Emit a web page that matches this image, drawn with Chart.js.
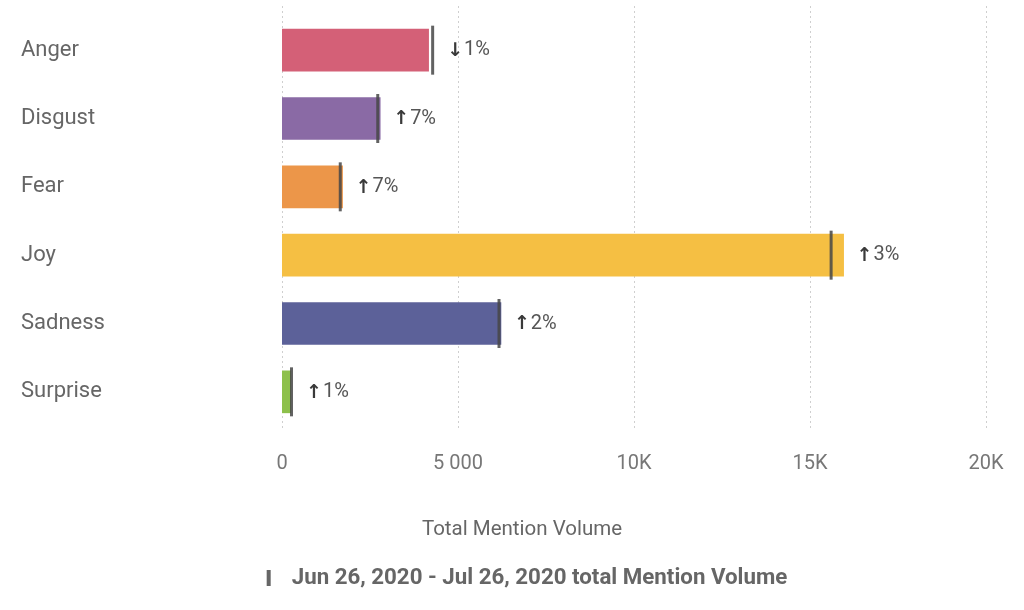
<!DOCTYPE html>
<html>
<head>
<meta charset="utf-8">
<title>Total Mention Volume by emotion</title>
<script src="https://cdn.jsdelivr.net/npm/chart.js@4.4.1/dist/chart.umd.min.js"></script>
<style>
  html, body { margin: 0; padding: 0; background: #fff; }
  #wrap { width: 1024px; height: 610px; position: relative; }
</style>
</head>
<body>
<div id="wrap"><canvas id="emotionChart"></canvas></div>
<script>
// data
var emotions = ["Anger", "Disgust", "Fear", "Joy", "Sadness", "Surprise"];
var currentVolume = [4165, 2790, 1720, 15955, 6220, 250];
var previousVolume = [4280, 2720, 1655, 15600, 6165, 270];
var changeDir = ["down", "up", "up", "up", "up", "up"];
var changePct = [1, 7, 7, 3, 2, 1];
var barColors = ["#d46077", "#8a6aa5", "#ec9649", "#f5bf43", "#5c6199", "#8dc04b"];
var tickLabels = { 0: "0", 5000: "5 000", 10000: "10K", 15000: "15K", 20000: "20K" };
var axisTitle = "Total Mention Volume";
var periodLabel = "Jun 26, 2020 - Jul 26, 2020 total Mention Volume";

var FONT = "Roboto, 'Noto Sans', sans-serif";

// dotted gridlines, a bit taller than the plot area like the original
var gridPlugin = {
  id: "dottedGrid",
  beforeDatasetsDraw: function(chart) {
    var ctx = chart.ctx, x = chart.scales.x, area = chart.chartArea;
    ctx.save();
    ctx.strokeStyle = "#cfcfcf";
    ctx.lineWidth = 1;
    ctx.setLineDash([2, 3]);
    x.ticks.forEach(function(t) {
      var px = Math.round(x.getPixelForValue(t.value)) + 0.5;
      ctx.beginPath();
      ctx.moveTo(px, area.top - 10);
      ctx.lineTo(px, area.bottom + 4);
      ctx.stroke();
    });
    ctx.restore();
  }
};

// change labels next to each bar, axis title and the period legend
var labelPlugin = {
  id: "changeLabels",
  afterDraw: function(chart) {
    var ctx = chart.ctx, x = chart.scales.x, y = chart.scales.y;
    ctx.save();
    ctx.textBaseline = "middle";
    for (var i = 0; i < emotions.length; i++) {
      var end = Math.max(x.getPixelForValue(currentVolume[i]), x.getPixelForValue(previousVolume[i]) + 1.5);
      var px = end + 13;
      var py = y.getPixelForValue(i);
      ctx.fillStyle = "#3a3a3a";
      ctx.font = "bold 19px 'DejaVu Sans', sans-serif";
      ctx.textAlign = "left";
      var arrow = changeDir[i] == "up" ? "\u2191" : "\u2193";
      ctx.fillText(arrow, px, py + 1);
      var aw = ctx.measureText(arrow).width;
      ctx.fillStyle = "#555";
      ctx.font = "20px " + FONT;
      ctx.fillText(changePct[i] + "%", px + aw + 1, py);
    }

    ctx.fillStyle = "#666";
    ctx.font = "20.5px " + FONT;
    ctx.textAlign = "center";
    ctx.fillText(axisTitle, 522, 530);

    ctx.font = "bold 22.3px " + FONT;
    ctx.textAlign = "left";
    var tw = ctx.measureText(periodLabel).width;
    var lx = 527 - (tw + 25) / 2;
    ctx.fillStyle = "#666";
    ctx.fillRect(lx, 570, 4, 16);
    ctx.fillText(periodLabel, lx + 25, 578);
    ctx.restore();
  }
};

new Chart(document.getElementById("emotionChart"), {
  type: "bar",
  data: {
    labels: emotions,
    datasets: [{
      type: "line",
      label: "previous",
      data: previousVolume,
      showLine: false,
      pointStyle: "line",
      rotation: 90,
      pointRadius: 24.5,
      pointHoverRadius: 24.5,
      borderWidth: 3,
      pointBorderWidth: 3,
      borderColor: "rgba(70,70,70,0.85)",
      backgroundColor: "rgba(70,70,70,0.85)",
      order: 1,
      clip: false
    }, {
      label: "current",
      data: currentVolume,
      backgroundColor: barColors,
      barThickness: 42,
      order: 2
    }]
  },
  options: {
    indexAxis: "y",
    responsive: true,
    maintainAspectRatio: false,
    animation: false,
    layout: { autoPadding: false, padding: { left: 21, right: 38, top: 16, bottom: 136 } },
    plugins: {
      legend: { display: false },
      tooltip: { enabled: false }
    },
    scales: {
      x: {
        min: 0,
        max: 20000,
        grid: { display: false, drawTicks: false },
        border: { display: false },
        ticks: {
          stepSize: 5000,
          padding: 26,
          color: "#777",
          font: { family: FONT, size: 20 },
          callback: function(v) { return tickLabels[v]; }
        },
        afterFit: function(scale) {
          scale.height = 48;
          scale.paddingLeft = 0;
          scale.paddingRight = 0;
        }
      },
      y: {
        grid: { display: false, drawTicks: false },
        border: { display: false },
        ticks: {
          crossAlign: "far",
          color: "#666",
          font: { family: FONT, size: 22 }
        },
        afterFit: function(scale) {
          scale.width = 261;
          scale.paddingTop = 0;
          scale.paddingBottom = 0;
        }
      }
    }
  },
  plugins: [gridPlugin, labelPlugin]
});
</script>
</body>
</html>
